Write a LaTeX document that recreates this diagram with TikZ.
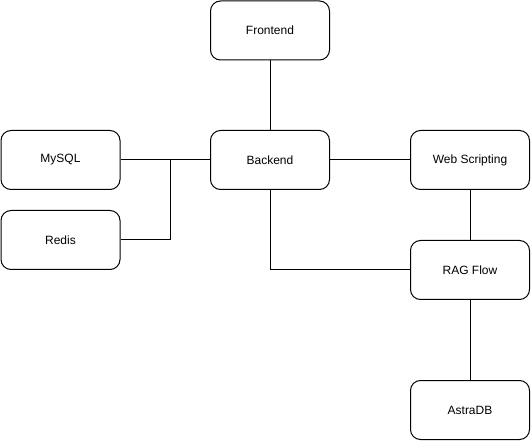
\documentclass[tikz,border=0pt]{standalone}
\usepackage{fontspec}
\setmainfont{Liberation Sans}
\begin{document}
\begin{tikzpicture}[x=1pt, y=-1pt, line width=1pt,
    service/.style={draw, rounded corners=10pt, minimum width=119pt,
      minimum height=59pt, font=\fontsize{12}{14}\selectfont}]
    \useasboundingbox (0,0) rectangle (531,441);

    \node[service] (frontend) at (270,30.5) {Frontend};
    \node[service] (backend) at (270,160) {Backend};
    \node[service] (mysql) at (60.5,160) {MySQL};
    \node[service] (redis) at (60.5,240) {Redis};
    \node[service] (scripting) at (470,160) {Web Scripting};
    \node[service] (ragflow) at (470,270) {RAG Flow};
    \node[service] (astradb) at (470,410) {AstraDB};

    \coordinate (join) at (170,160);

    \draw (frontend) -- (backend);
    \draw (mysql) -- (backend);
    \draw (redis.east) -| (join);
    \draw (backend) -- (scripting);
    \draw (scripting) -- (ragflow);
    \draw (backend.south) |- (ragflow.west);
    \draw (ragflow) -- (astradb);
  \end{tikzpicture}
\end{document}
